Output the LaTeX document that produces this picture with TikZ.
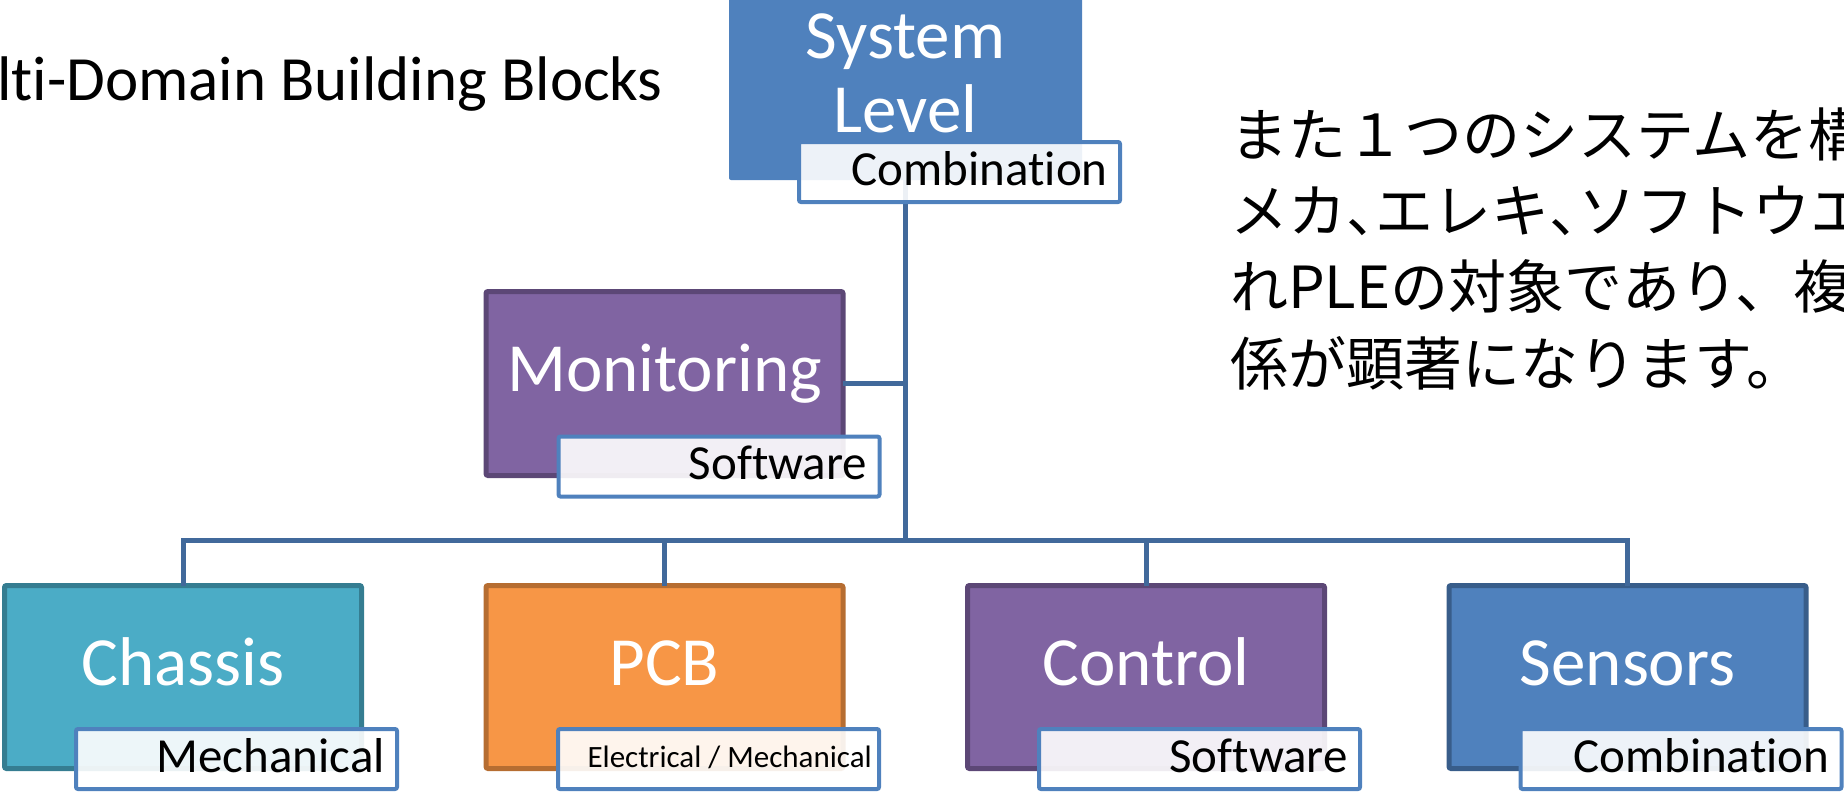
\documentclass[tikz,border=0pt]{standalone}
\usepackage{fontspec}
\setmainfont{Carlito}[Ligatures={NoCommon}]
\newfontfamily\jp{Noto Sans CJK JP}
\newfontfamily\jph[RawFeature=+halt]{Noto Sans CJK JP}
\usetikzlibrary{calc}
\definecolor{acc}{HTML}{4F81BD}
\definecolor{blud}{HTML}{385D8A}
\definecolor{pur}{HTML}{8064A2}
\definecolor{purd}{HTML}{5C4776}
\definecolor{tealc}{HTML}{4BACC6}
\definecolor{teald}{HTML}{357D91}
\definecolor{ora}{HTML}{F79646}
\definecolor{orad}{HTML}{B66D31}
\definecolor{connc}{HTML}{41699B}
\begin{document}
\begin{tikzpicture}[x=1pt,y=-1pt,
  blk/.style={rectangle, inner sep=0pt, outer sep=0pt, line width=5pt, rounded corners=2pt,
    minimum width=357pt, minimum height=183pt},
  lab/.style={rectangle, inner sep=0pt, outer sep=0pt, draw=acc, line width=4pt, fill=white,
    fill opacity=0.9, rounded corners=2pt, minimum width=321pt, minimum height=60pt},
  btxt/.style={text=white, font=\fontsize{69}{80}\selectfont, anchor=base, inner sep=0pt},
  ltxt/.style={text=black, font=\fontsize{49}{58}\selectfont, anchor=base east, inner sep=0pt},
  stxt/.style={text=black, font=\fontsize{31}{38}\selectfont, anchor=base east, inner sep=0pt},
  conn/.style={draw=connc, line width=5pt},
  jpt/.style={font=\jp\fontsize{58}{76}\selectfont, anchor=base west, inner sep=0pt},
  ttl/.style={font=\fontsize{63}{74}\selectfont, anchor=base west, inner sep=0pt}]
\useasboundingbox (0,0) rectangle (1844,793);
\clip (0,0) rectangle (1844,793);

% title and Japanese text
\node[ttl] (title) at (-3,100) {lti-Domain Building Blocks};
\node[jpt] (jp1) at (1230,156) {また１つのシステムを構};
\node[jpt] (jp2) at (1230,232) {メカ{\jph 、}エレキ{\jph 、}ソフトウエ};
\node[jpt] (jp3) at (1230,308) {れPLEの対象であり、複};
\node[jpt] (jp4) at (1230,385) {係が顕著になります。};

% main boxes
\node[blk, fill=acc, minimum width=353pt, minimum height=188pt] (sys) at (905.5,86) {};
\node[blk, draw=purd, fill=pur, minimum height=184pt] (mon) at (664.5,383.5) {};
\node[blk, draw=teald, fill=tealc] (chassis) at (183,677) {};
\node[blk, draw=orad, fill=ora] (pcb) at (664.5,677) {};
\node[blk, draw=purd, fill=pur] (control) at (1146,677) {};
\node[blk, draw=blud, fill=acc] (sensors) at (1627.5,677) {};

% box texts
\node[btxt] (t-sys1) at ($(sys.north)+(0,66)$) {System};
\node[btxt] (t-sys2) at ($(sys.north)+(0,140)$) {Level};
\node[btxt] (t-mon) at ($(mon.north)+(0,99.5)$) {Monitoring};
\node[btxt] (t-ch) at ($(chassis.north)+(0,99.5)$) {Chassis};
\node[btxt] (t-pcb) at ($(pcb.north)+(0,99.5)$) {PCB};
\node[btxt] (t-ctl) at ($(control.north)+(0,99.5)$) {Control};
\node[btxt] (t-sen) at ($(sensors.north)+(0,99.5)$) {Sensors};

% connectors
\coordinate (bar) at (905.5,540);
\draw[conn] (sys.south) -- (bar);
\draw[conn] (mon.east) -- (mon.east -| bar);
\draw[conn] (chassis.north) -- (chassis.north |- bar) -- (sensors.north |- bar) -- (sensors.north);
\draw[conn] (pcb.north) -- (pcb.north |- bar);
\draw[conn] (control.north) -- (control.north |- bar);

% label boxes
\node[lab] (syslab) at (959.5,172) {};
\node[lab] (monlab) at (719,466.5) {};
\node[lab] (chlab) at (236.5,759) {};
\node[lab] (pcblab) at (718.5,759) {};
\node[lab] (ctllab) at (1199.5,759) {};
\node[lab] (senlab) at (1681,759) {};

\node[ltxt] (l-sys) at ($(syslab.east)+(-12,13)$) {Combination};
\node[ltxt] (l-mon) at ($(monlab.east)+(-12,13)$) {Software};
\node[ltxt] (l-ch) at ($(chlab.east)+(-12,13)$) {Mechanical};
\node[stxt] (l-pcb) at ($(pcblab.east)+(-7,8)$) {Electrical / Mechanical};
\node[ltxt] (l-ctl) at ($(ctllab.east)+(-12,13)$) {Software};
\node[ltxt] (l-sen) at ($(senlab.east)+(-12,13)$) {Combination};
\end{tikzpicture}
\end{document}
